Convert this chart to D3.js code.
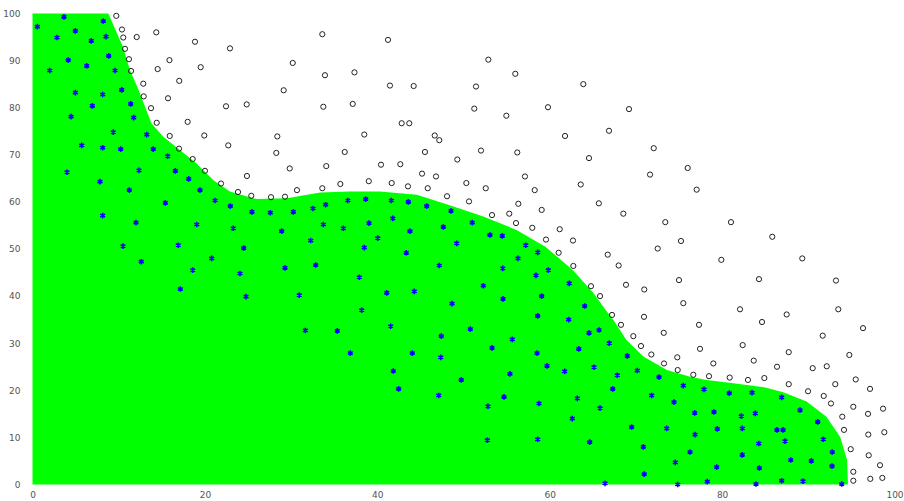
<!DOCTYPE html>
<html>
<head>
<meta charset="utf-8">
<script src="https://cdn.jsdelivr.net/npm/d3@7"></script>
<style>
  body { margin: 0; background: #fff; }
  svg { display: block; }
  .tick text { font-family: "DejaVu Sans", sans-serif; font-size: 9px; fill: #555; }
</style>
</head>
<body>
<svg class="js-chart" width="904" height="501"></svg>
<script>
var WIDTH = 904, HEIGHT = 501,
    margin = {top: 13.5, right: 9.5, bottom: 16.5, left: 32.5};

var xTicks = [0, 20, 40, 60, 80, 100],
    yTicks = [0, 10, 20, 30, 40, 50, 60, 70, 80, 90, 100];

// region boundary (x, y), traced clockwise from the top-left corner
var regionX = [0, 8.8, 10.5, 11.3, 12.3, 13.2, 13.8, 15.2, 17.1, 19, 21, 22.9, 26, 29.5, 33.4, 36.8, 40.3, 44.6, 48.4, 52.3, 56.2, 59.5, 62.7, 65.1, 66.6, 67.4, 68.9, 70.9, 73.6, 76.3, 78.2, 81.3, 85, 87.1, 89.8, 92.1, 93.7, 94.5, 94.6, 0],
    regionY = [100, 100, 92.9, 88, 83.8, 79.5, 76.7, 73.8, 71, 68.2, 64.6, 62.2, 60.6, 60.8, 62, 62.2, 62.2, 61.5, 59.3, 56.9, 54, 50.5, 45.5, 40.6, 36.8, 34.9, 30.7, 27.1, 24.3, 22.9, 22.2, 21.5, 20.6, 19.6, 17.6, 14.4, 10.1, 5.2, 0, 0];

// class A points (inside)
var insideX = [0.56, 3.65, 8.21, 4.97, 2.84, 8.53, 6.82, 4.15, 8.84, 2.0, 6.29, 9.57, 4.97, 8.14, 10.35, 6.94, 11.39, 4.47, 11.74, 9.37,
  13.25, 5.71, 8.14, 10.23, 14.01, 15.68, 12.35, 16.57, 18.12, 7.83, 11.23, 19.43, 21.17, 22.95, 25.46, 27.59, 30.26, 32.54, 34.01, 36.57,
  38.65, 15.41, 8.14, 12.01, 19.05, 23.29, 28.91, 33.74, 36.06, 39.04, 32.27, 40.05, 10.5, 16.91, 24.5, 38.49, 4.0, 12.62, 18.58, 20.79,
  17.15, 24.07, 24.77, 29.29, 30.95, 43.79, 43.36, 49.21, 53.07, 54.5, 57.22, 58.61, 56.32, 59.84, 58.41, 54.55, 47.19, 32.85, 37.91, 41.09,
  44.29, 52.3, 54.58, 59.07, 62.27, 48.67, 38.19, 58.61, 62.2, 64.06, 31.65, 35.36, 41.55, 47.42, 50.79, 55.66, 64.56, 65.72, 66.91, 36.87,
  44.06, 47.36, 53.31, 58.53, 63.37, 41.86, 49.74, 55.39, 59.69, 61.74, 65.14, 42.48, 47.12, 52.84, 54.7, 58.76, 63.2, 65.84, 62.62, 52.76,
  58.61, 64.64, 66.42, 69.0, 67.84, 70.16, 72.68, 67.31, 71.83, 75.5, 77.9, 80.83, 83.47, 86.91, 74.42, 76.82, 79.06, 82.23, 83.85, 89.04,
  69.51, 73.57, 76.86, 79.44, 82.34, 86.37, 87.07, 91.09, 84.25, 87.3, 91.74, 70.86, 76.28, 82.34, 92.78, 74.57, 79.37, 84.32, 87.96, 90.35,
  92.75, 70.97, 74.85, 78.28, 83.93, 86.91, 89.38, 93.88, 41.62, 43.6, 45.73, 48.55, 41.79, 47.66, 51.02],
    insideY = [97.2, 99.3, 98.4, 96.3, 94.9, 95.1, 94.2, 90.1, 91.0, 87.9, 88.9, 87.9, 83.2, 82.8, 83.8, 80.4, 80.8, 78.1, 77.9, 74.8,
  74.3, 72.0, 71.5, 71.2, 71.2, 69.7, 66.7, 66.6, 64.9, 64.3, 62.5, 62.5, 60.3, 59.1, 57.9, 57.7, 57.9, 58.6, 59.4, 60.3,
  60.6, 59.8, 57.1, 55.6, 55.2, 54.4, 53.8, 55.2, 54.4, 55.5, 51.8, 52.3, 50.6, 50.8, 50.2, 50.3, 66.3, 47.3, 45.5, 48.0,
  41.5, 44.8, 39.9, 46.0, 40.2, 53.8, 49.2, 51.2, 53.0, 52.8, 50.8, 49.3, 48.0, 45.5, 44.4, 45.9, 46.5, 46.6, 44.0, 40.7,
  41.0, 42.2, 39.4, 40.0, 42.7, 38.4, 37.0, 35.8, 35.0, 37.9, 32.7, 32.6, 33.6, 31.5, 33.0, 30.8, 32.2, 32.8, 30.0, 27.9,
  27.9, 27.0, 29.0, 27.9, 28.8, 24.1, 22.2, 23.5, 25.2, 24.0, 24.9, 20.3, 18.9, 16.6, 18.6, 17.2, 18.3, 16.2, 14.0, 9.4,
  9.6, 9.0, 0.25, 27.3, 23.2, 24.2, 22.8, 20.3, 18.9, 21.0, 20.2, 19.4, 19.5, 18.5, 17.5, 15.2, 15.4, 14.5, 15.1, 15.8,
  12.2, 11.9, 10.6, 11.8, 11.9, 11.6, 11.6, 13.3, 8.7, 9.2, 9.6, 8.0, 6.9, 6.3, 6.9, 4.7, 3.7, 3.5, 5.2, 5.0,
  3.9, 2.2, 0.0, 0.6, 0.1, 0.8, 0.7, 0.1, 60.3, 60.0, 59.1, 58.1, 56.5, 54.7, 55.6];

// class B points (outside)
var outsideX = [9.72, 10.38, 10.53, 12.09, 14.36, 18.85, 10.73, 11.19, 11.43, 14.52, 15.89, 12.85, 17.02, 12.9, 15.72, 13.75, 22.91, 33.62, 19.51, 30.19,
  33.93, 37.35, 29.14, 22.45, 24.85, 33.74, 37.15, 14.41, 18.0, 28.4, 38.49, 15.92, 19.93, 17.0, 22.71, 28.28, 36.22, 18.58, 20.01, 24.88,
  29.84, 34.08, 40.43, 21.87, 23.84, 25.38, 27.67, 29.29, 30.68, 33.62, 35.71, 39.01, 41.24, 52.88, 56.01, 41.47, 44.22, 51.45, 63.9, 51.25,
  54.97, 59.8, 69.2, 42.83, 43.71, 46.66, 47.19, 61.78, 66.88, 45.53, 52.03, 56.24, 49.28, 64.56, 42.67, 45.19, 46.81, 57.13, 71.64, 41.67,
  43.56, 45.85, 50.33, 52.58, 58.26, 63.6, 48.09, 50.64, 56.36, 59.07, 65.7, 68.54, 53.31, 55.31, 56.09, 57.98, 61.16, 59.57, 62.7, 72.07,
  76.01, 77.05, 73.41, 81.03, 85.82, 75.23, 72.53, 79.91, 89.3, 66.73, 68.0, 68.85, 70.97, 75.0, 84.28, 93.21, 65.84, 75.5, 82.08, 87.49,
  93.48, 67.23, 70.94, 77.32, 84.63, 96.35, 68.27, 73.23, 91.67, 69.7, 70.59, 77.44, 82.39, 87.73, 94.76, 71.79, 74.8, 78.98, 83.67, 86.37,
  90.51, 92.14, 73.26, 74.85, 76.66, 78.48, 80.88, 83.0, 84.9, 87.73, 93.13, 95.5, 97.16, 89.97, 91.79, 92.63, 95.22, 98.67, 93.94, 96.93,
  94.14, 96.96, 98.82, 94.92, 97.01, 98.32, 95.22, 95.22, 97.19, 98.59, 61.04, 62.74, 64.79],
    outsideY = [99.5, 96.6, 94.9, 95.0, 96.0, 94.0, 92.5, 90.3, 87.8, 88.2, 90.1, 85.1, 85.7, 82.4, 82.0, 79.9, 92.6, 95.6, 88.6, 89.5,
  86.9, 87.5, 83.7, 80.3, 80.7, 80.2, 80.8, 76.8, 77.0, 73.9, 74.3, 74.0, 74.1, 71.3, 72.0, 70.4, 70.6, 69.1, 66.6, 65.5,
  67.1, 67.6, 67.9, 63.9, 62.1, 61.3, 61.0, 61.1, 62.5, 62.9, 63.8, 64.4, 94.4, 90.2, 87.2, 84.7, 84.6, 84.5, 85.0, 79.8,
  78.3, 80.1, 79.7, 76.7, 76.7, 74.1, 73.1, 74.0, 75.1, 70.6, 70.9, 70.5, 69.0, 69.3, 68.0, 66.0, 65.4, 65.4, 65.8, 64.0,
  63.3, 62.9, 64.0, 62.9, 62.5, 63.7, 61.2, 60.1, 59.6, 58.3, 59.7, 57.5, 57.2, 57.5, 55.5, 54.5, 54.2, 52.0, 51.8, 71.4,
  67.2, 62.6, 55.7, 55.7, 52.6, 51.7, 50.1, 47.7, 48.0, 48.8, 46.5, 42.4, 41.4, 43.4, 43.6, 43.3, 40.0, 38.5, 37.2, 36.1,
  37.2, 36.0, 35.6, 33.9, 34.5, 33.2, 33.9, 32.2, 31.6, 31.5, 29.4, 28.8, 29.6, 28.1, 27.5, 27.6, 27.0, 25.7, 26.3, 25.0,
  24.7, 25.1, 25.7, 24.3, 23.3, 23.0, 22.7, 22.2, 22.6, 21.3, 21.3, 22.3, 20.3, 19.8, 18.8, 17.2, 16.5, 16.1, 14.4, 15.0,
  11.6, 10.6, 11.1, 7.5, 6.2, 4.1, 2.7, 0.8, 1.2, 1.4, 49.2, 46.4, 42.1];

var svg = d3.select('.js-chart'),
    x = d3.scaleLinear().domain([0, 100]).range([margin.left, WIDTH - margin.right]),
    y = d3.scaleLinear().domain([0, 100]).range([HEIGHT - margin.bottom, margin.top]);

// filled region
var region = regionX.map(function(d, i) { return [d, regionY[i]]; });
svg.append('path')
    .attr('d', d3.line().x(function(d) { return x(d[0]); }).y(function(d) { return y(d[1]); })(region) + 'Z')
    .attr('fill', '#00ff00');

// axes, labels only
var xAxis = svg.append('g')
    .attr('transform', 'translate(0,' + (HEIGHT - margin.bottom + 1) + ')')
    .call(d3.axisBottom(x).tickValues(xTicks).tickSize(0).tickPadding(6));
var yAxis = svg.append('g')
    .attr('transform', 'translate(' + (margin.left - 1) + ',0)')
    .call(d3.axisLeft(y).tickValues(yTicks).tickSize(0).tickPadding(11));
svg.selectAll('.domain').remove();

// outside points
svg.append('g').selectAll('circle')
    .data(outsideX)
    .enter()
    .append('circle')
    .attr('cx', function(d) { return x(d); })
    .attr('cy', function(d, i) { return y(outsideY[i]); })
    .attr('r', 2.6)
    .attr('fill', 'none')
    .attr('stroke', '#222')
    .attr('stroke-width', 1);

// inside points
var star = d3.symbol().type(d3.symbolAsterisk).size(22);
svg.append('g').selectAll('path')
    .data(insideX)
    .enter()
    .append('path')
    .attr('transform', function(d, i) { return 'translate(' + x(d) + ',' + y(insideY[i]) + ')'; })
    .attr('d', star)
    .attr('fill', 'none')
    .attr('stroke', '#0000ff')
    .attr('stroke-width', 1.6);
</script>
</body>
</html>
